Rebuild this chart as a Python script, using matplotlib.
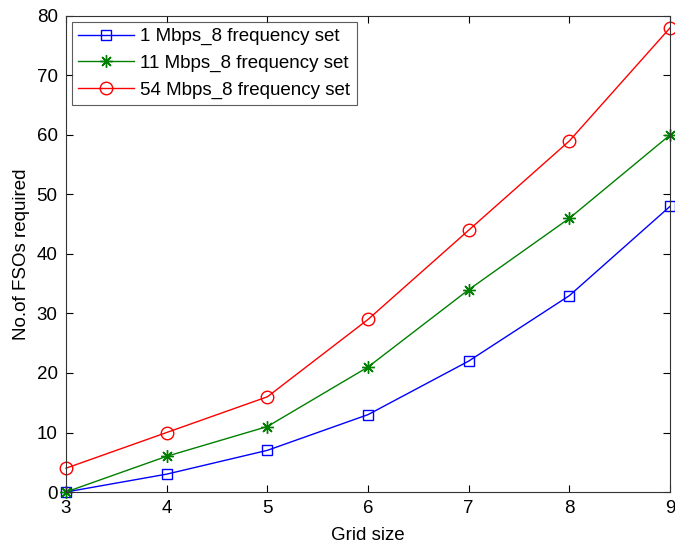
import matplotlib
matplotlib.use("Agg")
import matplotlib.pyplot as plt

plt.rcParams['font.family'] = ['Liberation Sans', 'DejaVu Sans']

grid_size = [3, 4, 5, 6, 7, 8, 9]
fso_1mbps = [0, 3, 7, 13, 22, 33, 48]
fso_11mbps = [0, 6, 11, 21, 34, 46, 60]
fso_54mbps = [4, 10, 16, 29, 44, 59, 78]

fig = plt.figure(figsize=(6.75, 5.46), dpi=100)
ax = fig.add_axes([0.0978, 0.0989, 0.8948, 0.8718])

ax.plot(grid_size, fso_1mbps, color='blue', marker='s', markersize=7,
        markerfacecolor='none', linewidth=1, label='1 Mbps_8 frequency set', clip_on=False)
ax.plot(grid_size, fso_11mbps, color='green', marker=(8, 2, 0), markersize=9,
        markeredgewidth=1, linewidth=1, label='11 Mbps_8 frequency set', clip_on=False)
ax.plot(grid_size, fso_54mbps, color='red', marker='o', markersize=9,
        markerfacecolor='none', linewidth=1, label='54 Mbps_8 frequency set', clip_on=False)

ax.set_xlim(3, 9)
ax.set_ylim(0, 80)
ax.set_xticks(grid_size)
ax.set_yticks(range(0, 81, 10))
ax.tick_params(direction='in', top=True, right=True, labelsize=13.5, length=5, pad=6)
for s in ax.spines.values():
    s.set_linewidth(0.8)
    s.set_color('#333333')

ax.set_xlabel('Grid size', fontsize=13.5, labelpad=7)
ax.set_ylabel('No.of FSOs required', fontsize=13.5, labelpad=5)

leg = ax.legend(loc='upper left', fontsize=13.5, fancybox=False, edgecolor='#333333',
                borderaxespad=0.3, handlelength=3.0, handletextpad=0.3,
                labelspacing=0.5, borderpad=0.35)
leg.get_frame().set_linewidth(0.8)

fig.savefig('out.png', dpi=100)
